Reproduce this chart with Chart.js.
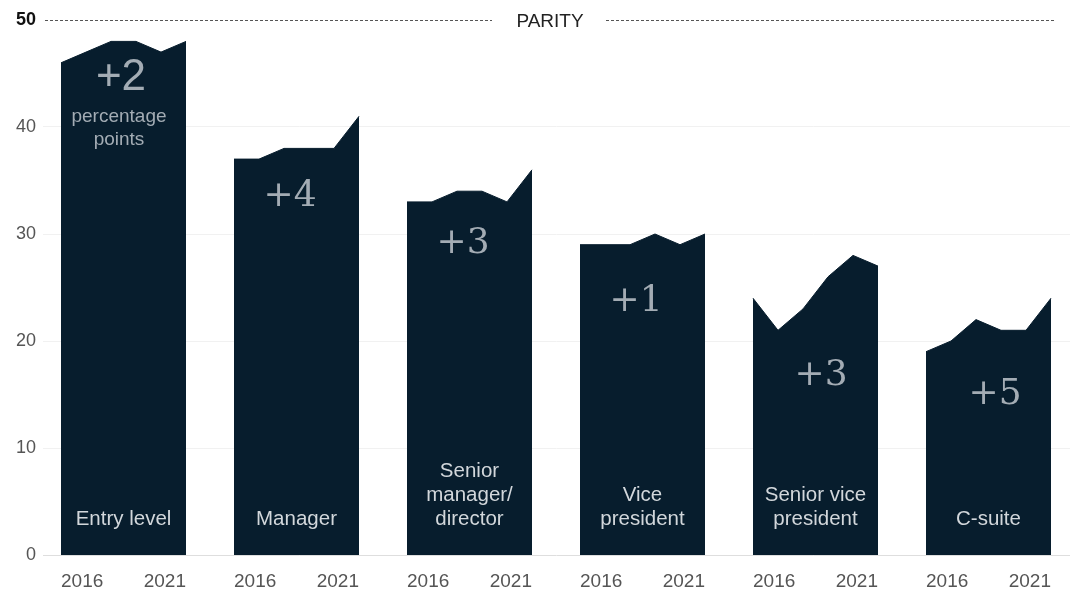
<!DOCTYPE html>
<html>
<head>
<meta charset="utf-8">
<script src="https://cdn.jsdelivr.net/npm/chart.js@4/dist/chart.umd.min.js"></script>
<style>
  html, body { margin: 0; padding: 0; background: #fff; }
  #wrap { width: 1070px; height: 596px; }
</style>
</head>
<body>
<div id="wrap"><canvas id="canvas"></canvas></div>
<script>
// share of women by job level, 2016-2021 (%)
const years = [2016, 2017, 2018, 2019, 2020, 2021];
const levels = [
  ['Entry level'],
  ['Manager'],
  ['Senior', 'manager/', 'director'],
  ['Vice', 'president'],
  ['Senior vice', 'president'],
  ['C-suite']
];
const entryLevel = [46, 47, 48, 48, 47, 48];
const manager = [37, 37, 38, 38, 38, 41];
const seniorManager = [33, 33, 34, 34, 33, 36];
const vicePresident = [29, 29, 29, 30, 29, 30];
const seniorVicePresident = [24, 21, 23, 26, 28, 27];
const cSuite = [19, 20, 22, 21, 21, 24];
const yTicks = [0, 10, 20, 30, 40, 50];
const parity = 50;

const series = [entryLevel, manager, seniorManager, vicePresident, seniorVicePresident, cSuite];

// layout: each panel is 5 year-steps wide, panels are 6.92 steps apart
const panelStep = 6.92;
// where the change label sits inside each panel (x in year steps, y in %)
const deltaLabelX = [2.4, 2.24, 2.24, 2.24, 2.72, 2.76];
const deltaLabelY = [44.6, 33.5, 29.1, 23.7, 16.8, 15.0];
const navy = '#071d2d';
const sans = '"Liberation Sans", Arial, sans-serif';

const canvas = document.getElementById('canvas');
const ctx = canvas.getContext('2d');

const tickValue = c => (c && c.tick ? c.tick.value : null);

const panelText = {
  id: 'panelText',
  afterDatasetsDraw(chart) {
    const c = chart.ctx;
    const x = chart.scales.x;
    const y = chart.scales.y;
    const area = chart.chartArea;

    // parity line with its label
    const yp = Math.round(y.getPixelForValue(parity)) + 0.5;
    c.save();
    c.strokeStyle = '#555';
    c.lineWidth = 1;
    c.setLineDash([3, 2]);
    c.beginPath();
    c.moveTo(area.left + 2, yp);
    c.lineTo(492, yp);
    c.moveTo(606, yp);
    c.lineTo(1056, yp);
    c.stroke();
    c.setLineDash([]);
    c.fillStyle = '#222';
    c.font = '19px ' + sans;
    c.textAlign = 'center';
    c.textBaseline = 'middle';
    c.fillText('PARITY', 550, yp + 1);

    series.forEach((vals, p) => {
      const x0 = x.getPixelForValue(p * panelStep);
      const x1 = x.getPixelForValue(p * panelStep + years.length - 1);
      const cx = (x0 + x1) / 2;

      // change over the period
      const delta = vals[vals.length - 1] - vals[0];
      const text = (delta >= 0 ? '+' : '') + delta;
      const dx = x.getPixelForValue(p * panelStep + deltaLabelX[p]);
      const dy = y.getPixelForValue(deltaLabelY[p]);
      c.fillStyle = '#a3acb4';
      c.textAlign = 'center';
      c.textBaseline = 'middle';
      if (p === 0) {
        c.font = '44px ' + sans;
        c.fillText(text, dx, dy);
        c.font = '19px ' + sans;
        c.fillText('percentage', dx - 2, dy + 39);
        c.fillText('points', dx - 2, dy + 62);
      } else {
        c.font = '36px "DejaVu Serif", serif';
        c.fillText(text, dx, dy);
      }

      // level name at the foot of each panel
      const lines = levels[p];
      const base = y.getPixelForValue(0) - 36;
      c.fillStyle = '#d2d7db';
      c.font = '20.5px ' + sans;
      lines.forEach((t, i) => {
        c.fillText(t, cx, base - (lines.length - 1 - i) * 24);
      });

      // first and last year under each panel
      c.fillStyle = '#555';
      c.font = '19px ' + sans;
      const ty = area.bottom + 27;
      c.textAlign = 'left';
      c.fillText(String(years[0]), x0, ty);
      c.textAlign = 'right';
      c.fillText(String(years[years.length - 1]), x1, ty);
    });
    c.restore();
  }
};

new Chart(ctx, {
  type: 'line',
  data: {
    datasets: series.map((vals, p) => ({
      label: levels[p].join(' '),
      data: vals.map((v, i) => ({ x: p * panelStep + i, y: v })),
      fill: 'origin',
      backgroundColor: navy,
      borderColor: navy,
      borderWidth: 1,
      pointRadius: 0,
      tension: 0
    }))
  },
  options: {
    responsive: true,
    maintainAspectRatio: false,
    animation: false,
    layout: { padding: { top: 20, bottom: 41, left: 0, right: 0 } },
    plugins: { legend: { display: false }, tooltip: { enabled: false } },
    scales: {
      x: { type: 'linear', min: -0.72, max: 40.36, display: false },
      y: {
        min: 0,
        max: 50,
        afterBuildTicks(scale) { scale.ticks = yTicks.map(v => ({ value: v })); },
        afterFit(scale) { scale.width = 43; },
        border: { display: false },
        grid: {
          drawTicks: false,
          color: c => tickValue(c) === 0 ? '#dedede' : (tickValue(c) === parity ? 'rgba(0,0,0,0)' : '#f1f1f1')
        },
        ticks: {
          padding: 7,
          color: c => tickValue(c) === parity ? '#111' : '#555',
          font: c => tickValue(c) === parity
            ? { family: sans, size: 18, weight: 'bold' }
            : { family: sans, size: 18 }
        }
      }
    }
  },
  plugins: [panelText]
});
</script>
</body>
</html>
